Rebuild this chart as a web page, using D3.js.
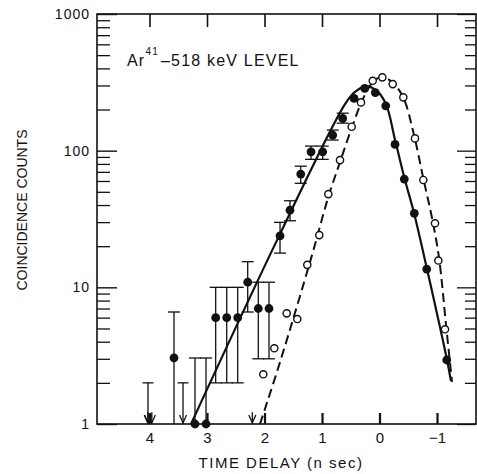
<!DOCTYPE html>
<html>
<head>
<meta charset="utf-8">
<script src="https://cdn.jsdelivr.net/npm/d3@7"></script>
<style>
  body { margin: 0; background: #fff; }
  svg { display: block; }
  text { font-family: "Liberation Sans", Arial, sans-serif; fill: #111; }
</style>
</head>
<body>
<svg id="chart" width="477" height="474"></svg>
<script>
// 軸の目盛り
const xTicks = [4, 3, 2, 1, 0, -1];
const xTickLabels = ['4', '3', '2', '1', '0', '−1'];
const yMajor = [1, 10, 100, 1000];
const yTickLabels = ['1', '10', '100', '1000'];

// 黒丸: [time delay (ns), counts]
const filledPts = [
  [3.574, 3.05], [3.209, 1.0], [3.017, 1.0], [2.849, 6.0], [2.657, 6.0], [2.466, 6.0],
  [2.292, 10.9], [2.108, 7.0], [1.922, 7.0], [1.730, 23.8], [1.557, 36.7], [1.370, 67.4],
  [1.191, 98], [0.988, 98], [0.814, 130], [0.640, 172], [0.443, 241], [0.257, 286],
  [0.073, 266], [-0.108, 213], [-0.270, 111], [-0.431, 62], [-0.605, 34.8],
  [-0.821, 13.6], [-1.169, 2.94]
];

// 誤差棒: [time delay, low, high]
const errors = [
  [3.574, 1, 6.6], [3.209, 1, 3.04], [3.017, 1, 3.04], [2.849, 2, 10], [2.657, 2, 10],
  [2.466, 2, 10], [2.292, 6.6, 15.4], [2.108, 3.0, 10.9], [1.922, 3.0, 10.9],
  [1.730, 17.8, 29.9], [1.557, 30.7, 43], [1.370, 57.7, 77], [1.191, 86.4, 108],
  [0.988, 86.4, 108], [0.814, 119.6, 141.5], [0.640, 159, 188]
];

// 上限値の矢印: [time delay, top]
const upperLimits = [[4.026, 2.0], [3.417, 2.0]];
const smallArrows = [[4.03, 1.22], [3.96, 1.22], [2.212, 1.22]];

// 白丸
const openPts = [
  [2.021, 2.31], [1.830, 3.58], [1.614, 6.45], [1.430, 5.86], [1.256, 14.6],
  [1.047, 24.1], [0.890, 48.1], [0.687, 85.3], [0.483, 149.6], [0.322, 225.5],
  [0.118, 324.6], [-0.049, 343.8], [-0.230, 307], [-0.414, 245.5], [-0.617, 123],
  [-0.762, 61], [-0.965, 29.4], [-1.023, 15.7], [-1.139, 4.93]
];

// 実線 (黒丸のフィット)
const solidCurve = [
  [3.278, 1.0], [1.748, 23.7], [0.600, 219], [0.426, 269], [0.235, 297], [0.043, 273],
  [-0.113, 219], [-0.270, 120], [-0.443, 61], [-0.600, 35], [-0.826, 13.6],
  [-1.174, 2.94], [-1.243, 2.06]
];

// 破線 (白丸のフィット)
const dashedCurve = [
  [2.078, 1.0], [1.730, 2.84], [1.174, 17.2], [0.896, 45.0], [0.687, 82.6], [0.478, 149],
  [0.304, 231], [0.130, 313], [-0.026, 346], [-0.200, 323], [-0.409, 247], [-0.600, 130],
  [-0.757, 64], [-0.913, 32.2], [-1.035, 16.4], [-1.157, 5.3], [-1.261, 2.03]
];

// window.top などと衝突しないように名前を付ける
const plotL = 97, plotR = 476, plotT = 14, plotB = 424;

const x = d3.scaleLinear().domain([4.913, -1.678]).range([plotL, plotR]);
const y = d3.scaleLog().domain([1, 1000]).range([plotB, plotT]);
const yMinor = y.ticks().filter(d => !yMajor.includes(d));

const svg = d3.select('#chart');

// 枠
svg.append('rect')
  .attr('x', plotL).attr('y', plotT)
  .attr('width', plotR - plotL).attr('height', plotB - plotT)
  .attr('fill', 'none').attr('stroke', '#111').attr('stroke-width', 1.6);

const styleAxis = g => {
  g.select('.domain').remove();
  g.selectAll('.tick line').attr('stroke', '#111');
};

// 下の軸
svg.append('g')
  .attr('transform', `translate(0,${plotB})`)
  .call(d3.axisBottom(x).tickValues(xTicks)
    .tickFormat((d, i) => xTickLabels[i]).tickSize(-11).tickPadding(8))
  .call(styleAxis)
  .call(g => g.selectAll('.tick line').attr('stroke-width', 2.2))
  .call(g => g.selectAll('text').attr('font-size', 15).attr('font-family', null));

// 上の軸
svg.append('g')
  .attr('transform', `translate(0,${plotT})`)
  .call(d3.axisTop(x).tickValues(xTicks).tickFormat('').tickSize(-13))
  .call(styleAxis)
  .call(g => g.selectAll('.tick line').attr('stroke-width', 1.6));

// 左の軸
svg.append('g')
  .attr('transform', `translate(${plotL},0)`)
  .call(d3.axisLeft(y).tickValues(yMajor)
    .tickFormat((d, i) => yTickLabels[i]).tickSize(-20).tickPadding(7))
  .call(styleAxis)
  .call(g => g.selectAll('.tick line').attr('stroke-width', 1.4))
  .call(g => g.selectAll('text').attr('font-size', 14)
    .attr('letter-spacing', 1).attr('font-family', null));

svg.append('g')
  .attr('transform', `translate(${plotL},0)`)
  .call(d3.axisLeft(y).tickValues(yMinor).tickFormat('').tickSize(-13))
  .call(styleAxis)
  .call(g => g.selectAll('.tick line').attr('stroke-width', 1.3));

// 右の軸
svg.append('g')
  .attr('transform', `translate(${plotR},0)`)
  .call(d3.axisRight(y).tickValues(yMajor).tickFormat('').tickSize(-19))
  .call(styleAxis)
  .call(g => g.selectAll('.tick line').attr('stroke-width', 1.3));

svg.append('g')
  .attr('transform', `translate(${plotR},0)`)
  .call(d3.axisRight(y).tickValues(yMinor).tickFormat('').tickSize(-11))
  .call(styleAxis)
  .call(g => g.selectAll('.tick line').attr('stroke-width', 1.3));

// 軸ラベル
svg.append('text')
  .attr('x', 281).attr('y', 468)
  .attr('text-anchor', 'middle')
  .attr('font-size', 15).attr('letter-spacing', 1.5)
  .text('TIME DELAY (n sec)');

svg.append('text')
  .attr('transform', 'translate(27,210) rotate(-90)')
  .attr('text-anchor', 'middle')
  .attr('font-size', 14)
  .text('COINCIDENCE COUNTS');

// 注記
const note = svg.append('text')
  .attr('x', 127).attr('y', 66)
  .attr('font-size', 16).attr('letter-spacing', 1.2);
note.append('tspan').text('Ar');
note.append('tspan').attr('font-size', 10).attr('dy', -11).text('41');
note.append('tspan').attr('dy', 11).attr('dx', 2).text('–518 keV LEVEL');

// フィット曲線
const line = d3.line()
  .x(d => x(d[0]))
  .y(d => y(d[1]))
  .curve(d3.curveCatmullRom.alpha(0.5));

svg.append('path')
  .attr('d', line(dashedCurve))
  .attr('fill', 'none').attr('stroke', '#111')
  .attr('stroke-width', 2).attr('stroke-dasharray', '9,5');

svg.append('path')
  .attr('d', line(solidCurve))
  .attr('fill', 'none').attr('stroke', '#111')
  .attr('stroke-width', 2.2);

// 誤差棒
const cap = 6;
const eb = svg.append('g').attr('stroke', '#111').attr('stroke-width', 1.3);
errors.forEach(([t, lo, hi]) => {
  const cx = x(t);
  eb.append('line').attr('x1', cx).attr('x2', cx).attr('y1', y(lo)).attr('y2', y(hi));
  eb.append('line').attr('x1', cx - cap).attr('x2', cx + cap).attr('y1', y(hi)).attr('y2', y(hi));
  if (lo > 1) {
    eb.append('line').attr('x1', cx - cap).attr('x2', cx + cap).attr('y1', y(lo)).attr('y2', y(lo));
  }
});

// 上限値の矢印
const arrow = (t, topVal, withCap) => {
  const cx = x(t);
  const y0 = y(topVal), y1 = y(1) - 1;
  eb.append('line').attr('x1', cx).attr('x2', cx).attr('y1', y0).attr('y2', y1);
  eb.append('path')
    .attr('d', `M${cx - 3.5},${y1 - 8}L${cx},${y1}L${cx + 3.5},${y1 - 8}`)
    .attr('fill', 'none');
  if (withCap) {
    eb.append('line').attr('x1', cx - 5.5).attr('x2', cx + 5.5).attr('y1', y0).attr('y2', y0);
  }
};
upperLimits.forEach(([t, v]) => arrow(t, v, true));
smallArrows.forEach(([t, v]) => arrow(t, v, false));

// 白丸
svg.append('g').selectAll('circle')
  .data(openPts)
  .join('circle')
  .attr('cx', d => x(d[0]))
  .attr('cy', d => y(d[1]))
  .attr('r', 3.6)
  .attr('fill', '#fff').attr('stroke', '#111').attr('stroke-width', 1.4);

// 黒丸
svg.append('g').selectAll('circle')
  .data(filledPts)
  .join('circle')
  .attr('cx', d => x(d[0]))
  .attr('cy', d => y(d[1]))
  .attr('r', 4.4)
  .attr('fill', '#111');
</script>
</body>
</html>
